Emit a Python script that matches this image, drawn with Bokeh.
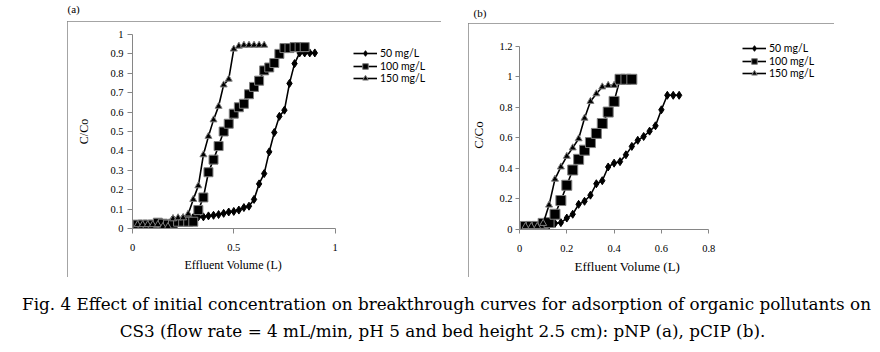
from bokeh.plotting import figure
from bokeh.layouts import row, column
from bokeh.models import Range1d, FixedTicker, Legend, LegendItem, Label, Spacer, Title
from bokeh.embed import file_html
from bokeh.resources import INLINE

# ---------------- data: panel (a) pNP ----------------
A50_X = [0.025, 0.05, 0.075, 0.1, 0.125, 0.15, 0.175, 0.2, 0.225, 0.25, 0.275, 0.3,
         0.325, 0.35, 0.375, 0.4, 0.425, 0.45, 0.475, 0.5, 0.525, 0.55, 0.575, 0.6,
         0.625, 0.65, 0.675, 0.7, 0.725, 0.75, 0.775, 0.8, 0.825, 0.85, 0.875, 0.9]
A50_Y = [0.02, 0.02, 0.02, 0.02, 0.02, 0.02, 0.02, 0.05, 0.05, 0.055, 0.055, 0.057,
         0.06, 0.06, 0.065, 0.068, 0.072, 0.078, 0.085, 0.088, 0.095, 0.108, 0.115, 0.15,
         0.23, 0.283, 0.395, 0.495, 0.578, 0.61, 0.748, 0.85, 0.905, 0.905, 0.905, 0.905]

A100_X = [0.025, 0.05, 0.075, 0.1, 0.125, 0.15, 0.175, 0.2, 0.225, 0.25, 0.275, 0.3,
          0.325, 0.35, 0.375, 0.4, 0.425, 0.45, 0.475, 0.5, 0.525, 0.55, 0.575, 0.6,
          0.625, 0.65, 0.675, 0.7, 0.725, 0.75, 0.775, 0.8, 0.825, 0.85]
A100_Y = [0.02, 0.02, 0.02, 0.02, 0.03, 0.025, 0.02, 0.025, 0.035, 0.035, 0.035, 0.035,
          0.095, 0.16, 0.29, 0.355, 0.425, 0.50, 0.54, 0.592, 0.625, 0.643, 0.692, 0.73,
          0.762, 0.815, 0.83, 0.853, 0.90, 0.93, 0.93, 0.935, 0.935, 0.935]

A150_X = [0.025, 0.05, 0.075, 0.1, 0.125, 0.15, 0.175, 0.2, 0.225, 0.25, 0.275, 0.3,
          0.325, 0.35, 0.375, 0.4, 0.425, 0.45, 0.475, 0.5, 0.525, 0.55, 0.575, 0.6,
          0.625, 0.65]
A150_Y = [0.02, 0.02, 0.02, 0.02, 0.02, 0.01, 0.01, 0.05, 0.055, 0.055, 0.075, 0.15,
          0.22, 0.38, 0.475, 0.56, 0.63, 0.74, 0.77, 0.925, 0.94, 0.945, 0.945, 0.945,
          0.945, 0.945]

# ---------------- data: panel (b) pCIP ----------------
B50_X = [0.025, 0.05, 0.075, 0.1, 0.125, 0.15, 0.175, 0.2, 0.225, 0.25, 0.275, 0.3,
         0.325, 0.35, 0.375, 0.4, 0.425, 0.45, 0.475, 0.5, 0.525, 0.55, 0.575, 0.6,
         0.625, 0.65, 0.675]
B50_Y = [0.02, 0.02, 0.02, 0.02, 0.03, 0.04, 0.045, 0.075, 0.10, 0.165, 0.185, 0.225,
         0.30, 0.32, 0.41, 0.435, 0.445, 0.49, 0.545, 0.585, 0.61, 0.645, 0.68, 0.785,
         0.88, 0.88, 0.88]

B100_X = [0.025, 0.05, 0.075, 0.1, 0.125, 0.15, 0.175, 0.2, 0.225, 0.25, 0.275, 0.3,
          0.325, 0.35, 0.375, 0.4, 0.425, 0.45, 0.475]
B100_Y = [0.02, 0.02, 0.02, 0.04, 0.045, 0.10, 0.19, 0.29, 0.39, 0.46, 0.52, 0.57,
          0.63, 0.695, 0.77, 0.84, 0.985, 0.985, 0.985]

B150_X = [0.025, 0.05, 0.075, 0.1, 0.125, 0.15, 0.175, 0.2, 0.225, 0.25, 0.275, 0.3,
          0.325, 0.35, 0.375, 0.4]
B150_Y = [0.02, 0.02, 0.02, 0.04, 0.16, 0.33, 0.41, 0.48, 0.535, 0.595, 0.73, 0.84,
          0.89, 0.935, 0.945, 0.945]

SERIES_NAMES = ["50 mg/L", "100 mg/L", "150 mg/L"]

A_XTICKS = [0, 0.5, 1]
A_XLABELS = ["0", "0.5", "1"]
A_YTICKS = [0, 0.1, 0.2, 0.3, 0.4, 0.5, 0.6, 0.7, 0.8, 0.9, 1]
A_YLABELS = ["0", "0.1", "0.2", "0.3", "0.4", "0.5", "0.6", "0.7", "0.8", "0.9", "1"]
B_XTICKS = [0, 0.2, 0.4, 0.6, 0.8]
B_XLABELS = ["0", "0.2", "0.4", "0.6", "0.8"]
B_YTICKS = [0, 0.2, 0.4, 0.6, 0.8, 1, 1.2]
B_YLABELS = ["0", "0.2", "0.4", "0.6", "0.8", "1", "1.2"]

X_TITLE = "Effluent Volume (L)"
Y_TITLE = "C/Co"
CAPTION_1 = "Fig. 4 Effect of initial concentration on breakthrough curves for adsorption of organic pollutants on"
CAPTION_2 = "CS3 (flow rate = 4 mL/min, pH 5 and bed height 2.5 cm): pNP (a), pCIP (b)."

GREY = "#868686"
SERIF = "Liberation Serif"


def make_panel(width, height, borders, axis_x, view_x, axis_y, view_y, xticks, xlabels,
               yticks, ylabels, series, legend_x, legend_ys, tick_font_size, title_font_size,
               ylabel_standoff, xtitle_offset, xtitle_standoff, xtick_standoff,
               ytick_standoff, tick_out):
    left, right, top, bottom = borders
    # the plotting frame is widened (and raised) so that the legend sits inside it;
    # the axes themselves are bounded to their real extents
    p = figure(width=width, height=height, x_range=Range1d(0, view_x),
               y_range=Range1d(0, view_y),
               output_backend="svg", toolbar_location=None,
               min_border_left=left, min_border_right=right,
               min_border_top=top, min_border_bottom=bottom)
    p.outline_line_color = None
    p.background_fill_color = "white"
    p.border_fill_color = "white"
    p.xgrid.visible = False
    p.ygrid.visible = False
    p.styles = {"outline": "1px solid " + GREY, "outline-offset": "-1px"}

    for ax, ticks, labels, ts in ((p.xaxis[0], xticks, xlabels, xtick_standoff),
                                  (p.yaxis[0], yticks, ylabels, ytick_standoff)):
        ax.ticker = FixedTicker(ticks=ticks)
        ax.major_label_overrides = dict(zip(ticks, labels))
        ax.minor_tick_line_color = None
        ax.major_tick_in = 0
        ax.major_tick_out = tick_out
        ax.major_tick_line_color = GREY
        ax.axis_line_color = GREY
        ax.major_label_text_font = SERIF
        ax.major_label_text_font_size = tick_font_size
        ax.major_label_text_color = "black"
        ax.major_label_standoff = ts
    p.xaxis.bounds = (0, axis_x)
    p.yaxis.bounds = (0, axis_y)
    p.yaxis.axis_label = Y_TITLE
    p.yaxis.axis_label_text_font = SERIF
    p.yaxis.axis_label_text_font_style = "normal"
    p.yaxis.axis_label_text_font_size = title_font_size
    p.yaxis.axis_label_text_color = "black"
    p.yaxis.axis_label_standoff = ylabel_standoff

    # x-axis title, placed under the bounded axis
    p.add_layout(Title(text=X_TITLE, align="left", offset=xtitle_offset,
                       standoff=xtitle_standoff, text_font=SERIF,
                       text_font_size=title_font_size, text_font_style="normal",
                       text_color="black"), "below")

    for name, ly, (xs, ys, marker, msize, mline) in zip(SERIES_NAMES, legend_ys, series):
        rl = p.line(xs, ys, line_color="black", line_width=1.6)
        rm = p.scatter(xs, ys, marker=marker, size=msize, fill_color="black",
                       line_color=mline, line_width=1)
        leg = Legend(items=[LegendItem(label=name, renderers=[rl, rm])],
                     location=(legend_x, ly), orientation="vertical",
                     border_line_color=None, background_fill_alpha=0, padding=0, margin=0,
                     spacing=0, glyph_width=24, glyph_height=14, label_height=14,
                     label_standoff=3, label_text_font="Lato", label_text_font_size="10.5px",
                     label_text_color="black")
        p.add_layout(leg)
    return p


# panel (a): frame 299 x 194 px  -> 202.6 px per litre, 194 px per unit C/Co
pa = make_panel(374, 256, (65, 10, 13, 49), 1, 1.476, 1, 1, A_XTICKS, A_XLABELS,
                A_YTICKS, A_YLABELS,
                [(A50_X, A50_Y, "diamond", 8, "black"),
                 (A100_X, A100_Y, "square", 9, "#7f7f7f"),
                 (A150_X, A150_Y, "triangle", 7, "#7f7f7f")],
                221, (167.8, 155.3, 142.8), "10.5px", "12px", 16, 52, 4, 10, 4, 5)

# panel (b): frame 309 x 189 px -> 239.6 px per litre, 152.5 px per unit C/Co
pb = make_panel(366, 254, (47, 10, 17, 48), 0.8, 1.2896, 1.2, 1.2393, B_XTICKS, B_XLABELS,
                B_YTICKS, B_YLABELS,
                [(B50_X, B50_Y, "diamond", 8, "black"),
                 (B100_X, B100_Y, "square", 10, "#7f7f7f"),
                 (B150_X, B150_Y, "triangle", 7, "#7f7f7f")],
                223, (173.8, 161.3, 148.8), "10.5px", "13px", 10, 55, 4, 11, 3, 4)


def text_strip(width, height, labels):
    f = figure(width=width, height=height, x_range=Range1d(0, width), y_range=Range1d(height, 0),
               x_axis_type=None, y_axis_type=None, output_backend="svg", toolbar_location=None,
               min_border=0)
    f.outline_line_color = None
    f.xgrid.visible = False
    f.ygrid.visible = False
    for lab in labels:
        f.add_layout(lab)
    return f


top = text_strip(880, 21, [
    Label(x=67, y=8, text="(a)", text_font=SERIF, text_font_size="11px",
          text_baseline="middle", text_align="left", text_color="black"),
    Label(x=473, y=12, text="(b)", text_font=SERIF, text_font_size="11px",
          text_baseline="middle", text_align="left", text_color="black"),
])

caption = text_strip(880, 75, [
    Label(x=446, y=26, text=CAPTION_1, text_font="DejaVu Serif", text_font_size="16.8px",
          text_baseline="middle", text_align="center", text_color="black"),
    Label(x=442, y=53, text=CAPTION_2, text_font="DejaVu Serif", text_font_size="16.8px",
          text_baseline="middle", text_align="center", text_color="black"),
])

middle = row(Spacer(width=67, height=256), pa, Spacer(width=27, height=256),
             column(Spacer(width=366, height=2), pb), Spacer(width=46, height=256))
layout = column(top, middle, caption)

open("out.html", "w").write(file_html(layout, INLINE))
